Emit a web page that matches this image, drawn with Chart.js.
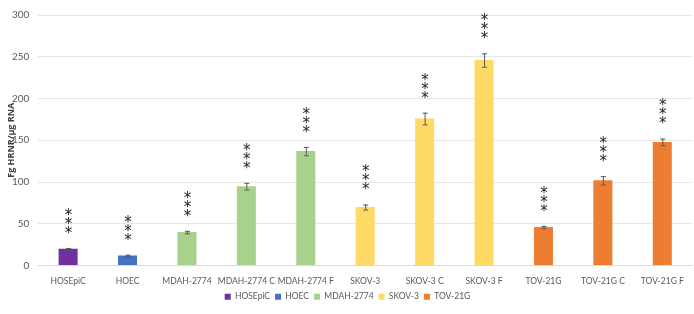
<!DOCTYPE html>
<html>
<head>
<meta charset="utf-8">
<script src="https://cdn.jsdelivr.net/npm/chart.js@4"></script>
<style>
  html, body { margin: 0; padding: 0; background: #fff; }
  #wrap { width: 694px; height: 314px; }
</style>
</head>
<body>
<div id="wrap"><canvas id="barChart" width="694" height="314"></canvas></div>
<script>
// categories along the x axis
const categories = ['HOSEpiC', 'HOEC', 'MDAH-2774', 'MDAH-2774 C', 'MDAH-2774 F',
    'SKOV-3', 'SKOV-3 C', 'SKOV-3 F', 'TOV-21G', 'TOV-21G C', 'TOV-21G F'];

// cell line groups (legend entries) and which categories belong to each
const groups = ['HOSEpiC', 'HOEC', 'MDAH-2774', 'SKOV-3', 'TOV-21G'];
const groupOf = [0, 1, 2, 2, 2, 3, 3, 3, 4, 4, 4];

// Fg HRNR / ug RNA
const values = [20, 12, 40, 95, 137, 70, 176, 246, 46, 102, 148];
const errors = [1, 1, 1.5, 4, 5, 3, 7, 8, 1.5, 5, 4];

const yTicks = [0, 50, 100, 150, 200, 250, 300];
const yTitle = 'Fg HRNR/μg RNA';

const groupColors = ['#7030A0', '#4472C4', '#A9D18E', '#FFD966', '#ED7D31'];

const datasets = groups.map((g, gi) => ({
    label: g,
    data: values.map((v, i) => groupOf[i] === gi ? v : null),
    backgroundColor: groupColors[gi],
    borderWidth: 0,
    grouped: false,
    barPercentage: 0.32,
    categoryPercentage: 1.0
}));

// error bars, significance stars and the y title
const extras = {
    id: 'extras',
    afterDatasetsDraw(chart) {
        const ctx = chart.ctx;
        const x = chart.scales.x;
        const y = chart.scales.y;
        ctx.save();
        values.forEach((v, i) => {
            const cx = x.getPixelForValue(i);
            const top = y.getPixelForValue(v + errors[i]);
            const bot = y.getPixelForValue(v - errors[i]);
            ctx.strokeStyle = '#595959';
            ctx.lineWidth = 1;
            ctx.beginPath();
            ctx.moveTo(cx + 0.5, top);
            ctx.lineTo(cx + 0.5, bot);
            ctx.moveTo(cx - 2, top + 0.5);
            ctx.lineTo(cx + 3, top + 0.5);
            ctx.moveTo(cx - 2, bot + 0.5);
            ctx.lineTo(cx + 3, bot + 0.5);
            ctx.stroke();

            ctx.fillStyle = '#222';
            ctx.font = '15px "DejaVu Sans"';
            ctx.textAlign = 'center';
            ctx.textBaseline = 'middle';
            for (let k = 0; k < 3; k++) {
                ctx.fillText('*', cx + 0.5, top - 14 - k * 9);
            }
        });
        ctx.restore();

        // y axis title, rotated
        const area = chart.chartArea;
        ctx.save();
        ctx.translate(11, (area.top + area.bottom) / 2);
        ctx.rotate(-Math.PI / 2);
        ctx.fillStyle = '#404040';
        ctx.font = 'bold 9px "Open Sans"';
        ctx.textAlign = 'center';
        ctx.textBaseline = 'middle';
        ctx.fillText(yTitle, 0, 0);
        ctx.restore();
    }
};

const ctx = document.getElementById('barChart').getContext('2d');
new Chart(ctx, {
    type: 'bar',
    data: { labels: categories, datasets: datasets },
    options: {
        responsive: false,
        animation: false,
        layout: { padding: { top: 5, right: 2, left: 3, bottom: 3 } },
        plugins: {
            legend: {
                position: 'bottom',
                labels: {
                    boxWidth: 6,
                    boxHeight: 6,
                    padding: 5,
                    color: '#595959',
                    font: { family: 'Lato', size: 8.5 }
                }
            },
            tooltip: { enabled: false }
        },
        scales: {
            x: {
                grid: { display: false, drawTicks: true, tickLength: 7 },
                border: { color: '#d9d9d9' },
                afterFit(axis) { axis.height = 22; },
                ticks: {
                    color: '#595959',
                    maxRotation: 0,
                    autoSkip: false,
                    padding: 4,
                    font: { family: 'Lato', size: 8.5 }
                }
            },
            y: {
                min: 0,
                max: 300,
                afterBuildTicks(axis) {
                    axis.ticks = yTicks.map(v => ({ value: v }));
                },
                grid: { color: '#e6e6e6', drawTicks: false },
                border: { display: false },
                ticks: {
                    color: '#595959',
                    padding: 9,
                    font: { family: 'Lato', size: 10 }
                }
            }
        }
    },
    plugins: [extras]
});
</script>
</body>
</html>
